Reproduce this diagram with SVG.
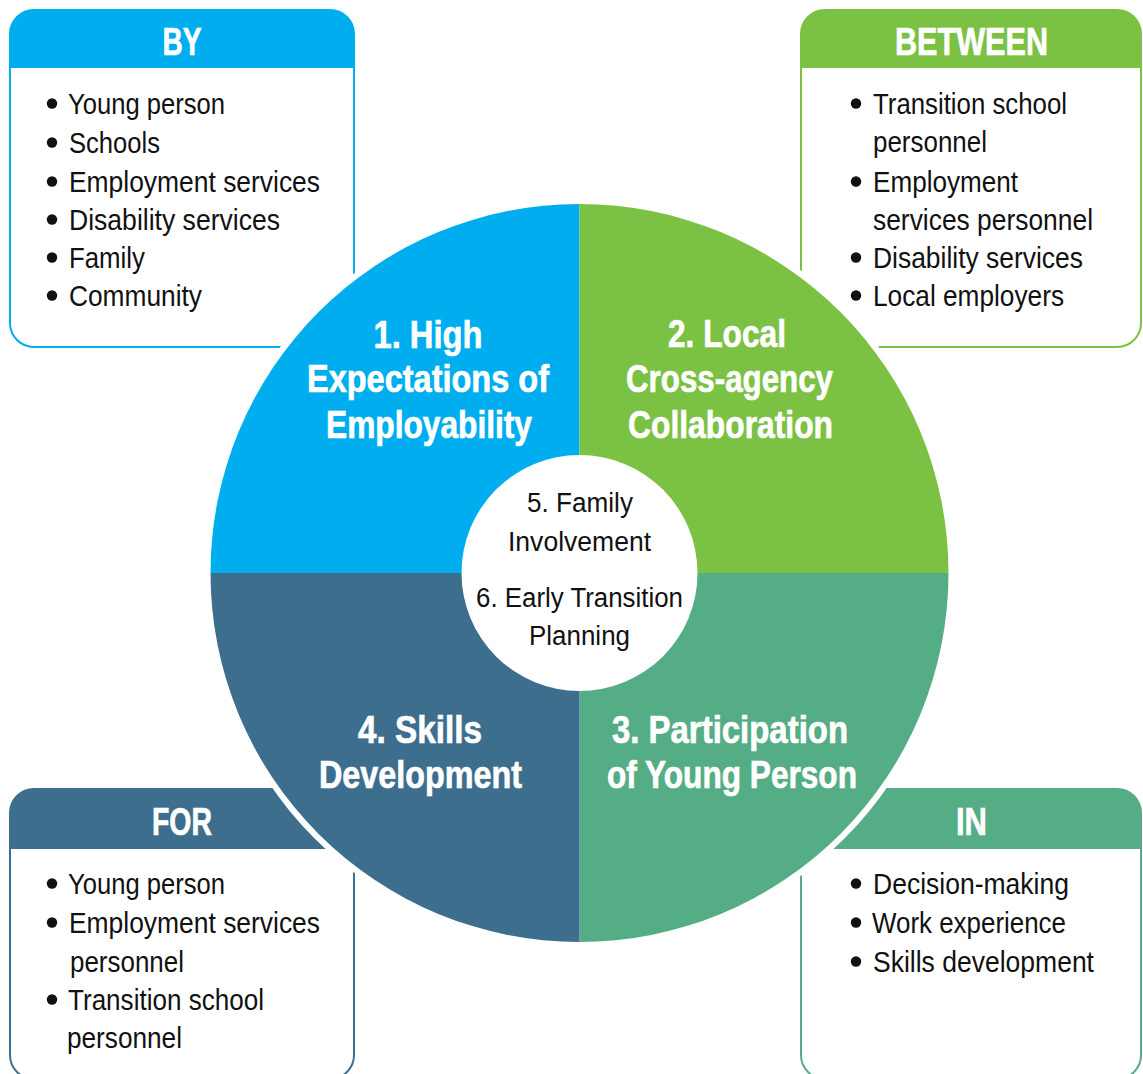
<svg xmlns="http://www.w3.org/2000/svg" width="1143" height="1074" viewBox="0 0 1143 1074">
  <style>
    .body { font-family: "Liberation Sans Narrow", "Liberation Sans", Arial, sans-serif; font-size: 29px; fill: #111; }
    .mid { font-family: "Liberation Sans Narrow", "Liberation Sans", Arial, sans-serif; font-size: 27px; fill: #111; text-anchor: middle; }
    .head { font-family: "Liberation Sans Narrow", "Liberation Sans", Arial, sans-serif; font-size: 39px; font-weight: bold; fill: #fff; stroke: #fff; stroke-width: 0.7; text-anchor: middle; }
    .title { font-family: "Liberation Sans Narrow", "Liberation Sans", Arial, sans-serif; font-size: 39px; font-weight: bold; fill: #fff; stroke: #fff; stroke-width: 0.7; text-anchor: middle; }
    .dot { fill: #111; }
    .frame { fill: #fff; stroke-width: 2; }
  </style>

  <rect width="1143" height="1074" fill="#fff"/>

  <!-- BY box -->
  <g id="box-by">
    <rect class="frame" x="10" y="10" width="344" height="337" rx="24" stroke="#00AEEF"/>
    <path d="M10,68 V34 A24,24 0 0 1 34,10 H330 A24,24 0 0 1 354,34 V68 Z" fill="#00AEEF"/>
    <text class="head" x="182" y="55" textLength="39" lengthAdjust="spacingAndGlyphs">BY</text>
    <circle class="dot" cx="52" cy="103.5" r="5.2"/>
    <text class="body" x="68" y="114" textLength="157" lengthAdjust="spacingAndGlyphs">Young person</text>
    <circle class="dot" cx="52" cy="142.5" r="5.2"/>
    <text class="body" x="69" y="153" textLength="91" lengthAdjust="spacingAndGlyphs">Schools</text>
    <circle class="dot" cx="52" cy="181.5" r="5.2"/>
    <text class="body" x="69" y="192" textLength="251" lengthAdjust="spacingAndGlyphs">Employment services</text>
    <circle class="dot" cx="52" cy="219.5" r="5.2"/>
    <text class="body" x="69" y="230" textLength="211" lengthAdjust="spacingAndGlyphs">Disability services</text>
    <circle class="dot" cx="52" cy="257.5" r="5.2"/>
    <text class="body" x="69" y="268" textLength="76" lengthAdjust="spacingAndGlyphs">Family</text>
    <circle class="dot" cx="52" cy="295.5" r="5.2"/>
    <text class="body" x="69" y="306" textLength="133" lengthAdjust="spacingAndGlyphs">Community</text>
  </g>

  <!-- BETWEEN box -->
  <g id="box-between">
    <rect class="frame" x="801" y="10" width="340" height="337" rx="24" stroke="#7BC143"/>
    <path d="M801,68 V34 A24,24 0 0 1 825,10 H1117 A24,24 0 0 1 1141,34 V68 Z" fill="#7BC143"/>
    <text class="head" x="971.5" y="55" textLength="153" lengthAdjust="spacingAndGlyphs">BETWEEN</text>
    <circle class="dot" cx="856" cy="103.5" r="5.2"/>
    <text class="body" x="873" y="114" textLength="194" lengthAdjust="spacingAndGlyphs">Transition school</text>
    <text class="body" x="873" y="152" textLength="114" lengthAdjust="spacingAndGlyphs">personnel</text>
    <circle class="dot" cx="856" cy="181.5" r="5.2"/>
    <text class="body" x="873" y="192" textLength="145" lengthAdjust="spacingAndGlyphs">Employment</text>
    <text class="body" x="873" y="230" textLength="220" lengthAdjust="spacingAndGlyphs">services personnel</text>
    <circle class="dot" cx="856" cy="257.5" r="5.2"/>
    <text class="body" x="873" y="268" textLength="210" lengthAdjust="spacingAndGlyphs">Disability services</text>
    <circle class="dot" cx="856" cy="295.5" r="5.2"/>
    <text class="body" x="873" y="306" textLength="191" lengthAdjust="spacingAndGlyphs">Local employers</text>
  </g>

  <!-- FOR box -->
  <g id="box-for">
    <rect class="frame" x="10" y="789" width="344" height="290" rx="24" stroke="#3D6E8E"/>
    <path d="M10,849 V813 A24,24 0 0 1 34,789 H330 A24,24 0 0 1 354,813 V849 Z" fill="#3D6E8E"/>
    <text class="head" x="182" y="835" textLength="60" lengthAdjust="spacingAndGlyphs">FOR</text>
    <circle class="dot" cx="52" cy="883.5" r="5.2"/>
    <text class="body" x="68" y="894" textLength="157" lengthAdjust="spacingAndGlyphs">Young person</text>
    <circle class="dot" cx="52" cy="922.5" r="5.2"/>
    <text class="body" x="69" y="933" textLength="251" lengthAdjust="spacingAndGlyphs">Employment services</text>
    <text class="body" x="70" y="972" textLength="114" lengthAdjust="spacingAndGlyphs">personnel</text>
    <circle class="dot" cx="52" cy="999.5" r="5.2"/>
    <text class="body" x="68" y="1010" textLength="196" lengthAdjust="spacingAndGlyphs">Transition school</text>
    <text class="body" x="67" y="1048" textLength="115" lengthAdjust="spacingAndGlyphs">personnel</text>
  </g>

  <!-- IN box -->
  <g id="box-in">
    <rect class="frame" x="801" y="789" width="340" height="290" rx="24" stroke="#55AD86"/>
    <path d="M801,849 V813 A24,24 0 0 1 825,789 H1117 A24,24 0 0 1 1141,813 V849 Z" fill="#55AD86"/>
    <text class="head" x="971.5" y="835" textLength="31" lengthAdjust="spacingAndGlyphs">IN</text>
    <circle class="dot" cx="856" cy="883.5" r="5.2"/>
    <text class="body" x="873" y="894" textLength="196" lengthAdjust="spacingAndGlyphs">Decision-making</text>
    <circle class="dot" cx="856" cy="922.5" r="5.2"/>
    <text class="body" x="872" y="933" textLength="194" lengthAdjust="spacingAndGlyphs">Work experience</text>
    <circle class="dot" cx="856" cy="961.5" r="5.2"/>
    <text class="body" x="873" y="972" textLength="221" lengthAdjust="spacingAndGlyphs">Skills development</text>
  </g>

  <!-- white halo separating the wheel from the boxes -->
  <circle cx="579.5" cy="573" r="375" fill="#fff"/>

  <!-- quadrant 1 -->
  <g id="q1">
    <path d="M579.5,573 L210.5,573 A369,369 0 0 1 579.5,204 Z" fill="#00AEEF"/>
    <text class="title" x="428" y="348" textLength="109" lengthAdjust="spacingAndGlyphs">1. High</text>
    <text class="title" x="428" y="392" textLength="242" lengthAdjust="spacingAndGlyphs">Expectations of</text>
    <text class="title" x="429" y="438" textLength="206" lengthAdjust="spacingAndGlyphs">Employability</text>
  </g>

  <!-- quadrant 2 -->
  <g id="q2">
    <path d="M579.5,573 L579.5,204 A369,369 0 0 1 948.5,573 Z" fill="#7BC143"/>
    <text class="title" x="727" y="347" textLength="118" lengthAdjust="spacingAndGlyphs">2. Local</text>
    <text class="title" x="729.5" y="392" textLength="207" lengthAdjust="spacingAndGlyphs">Cross-agency</text>
    <text class="title" x="730.5" y="438" textLength="205" lengthAdjust="spacingAndGlyphs">Collaboration</text>
  </g>

  <!-- quadrant 3 -->
  <g id="q3">
    <path d="M579.5,573 L948.5,573 A369,369 0 0 1 579.5,942 Z" fill="#55AD86"/>
    <text class="title" x="730" y="743" textLength="236" lengthAdjust="spacingAndGlyphs">3. Participation</text>
    <text class="title" x="732" y="788" textLength="250" lengthAdjust="spacingAndGlyphs">of Young Person</text>
  </g>

  <!-- quadrant 4 -->
  <g id="q4">
    <path d="M579.5,573 L579.5,942 A369,369 0 0 1 210.5,573 Z" fill="#3D6E8E"/>
    <text class="title" x="420" y="743" textLength="124" lengthAdjust="spacingAndGlyphs">4. Skills</text>
    <text class="title" x="420.5" y="788" textLength="203" lengthAdjust="spacingAndGlyphs">Development</text>
  </g>

  <!-- centre hub -->
  <g id="hub">
    <circle cx="579.5" cy="573" r="118" fill="#fff"/>
    <text class="mid" x="580" y="512" textLength="106" lengthAdjust="spacingAndGlyphs">5. Family</text>
    <text class="mid" x="579.5" y="551" textLength="143" lengthAdjust="spacingAndGlyphs">Involvement</text>
    <text class="mid" x="579.5" y="607" textLength="207" lengthAdjust="spacingAndGlyphs">6. Early Transition</text>
    <text class="mid" x="579.5" y="645" textLength="101" lengthAdjust="spacingAndGlyphs">Planning</text>
  </g>
</svg>
